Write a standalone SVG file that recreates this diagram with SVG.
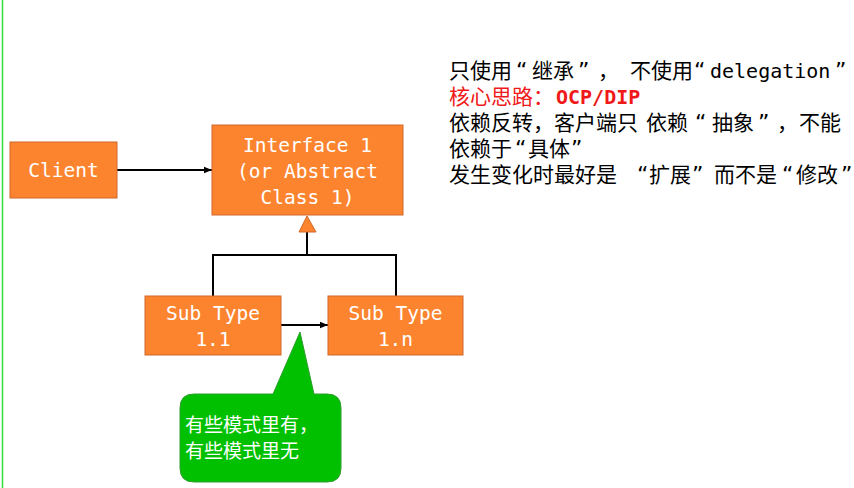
<svg xmlns="http://www.w3.org/2000/svg" width="854" height="488" viewBox="0 0 854 488">
<defs>
<style>
.box{fill:#FD842F;stroke:#D0692A;stroke-width:1}
.bt{font-family:"DejaVu Sans Mono","Liberation Mono",monospace;font-size:19.5px;fill:#fff;text-anchor:middle}
.ln{fill:none;stroke:#000;stroke-width:2}
.rt{font-family:"Noto Sans CJK SC",sans-serif;font-size:21px;fill:#000}
.mono{font-family:"DejaVu Sans Mono","Liberation Mono",monospace;font-size:20px}
.q{font-family:"DejaVu Sans",sans-serif;font-size:22px}
.ct{font-family:"Noto Sans CJK SC",sans-serif;font-size:19px;fill:#fff}
</style>
<marker id="arr" viewBox="0 0 10 10" refX="10" refY="5" markerWidth="8" markerHeight="8" markerUnits="userSpaceOnUse" orient="auto">
<path d="M0,1 L10,5 L0,9 z" fill="#000"/>
</marker>
</defs>
<rect width="854" height="488" fill="#fff"/>
<line x1="2.5" y1="0" x2="2.5" y2="488" stroke="#33DD33" stroke-width="1.5"/>
<g id="connectors">
<line class="ln" x1="117" y1="170" x2="212" y2="170" marker-end="url(#arr)"/>
<polyline class="ln" points="213,296 213,255 396,255 396,296"/>
<line class="ln" x1="307" y1="255" x2="307" y2="232"/>
<polygon points="307,216 299,232 316,232" fill="#FD842F" stroke="#D0692A" stroke-width="1"/>
<line class="ln" x1="281" y1="325" x2="328" y2="325" marker-end="url(#arr)"/>
</g>
<g id="client">
<rect class="box" x="10" y="142" width="107" height="56"/>
<text class="bt" x="63.5" y="177">Client</text>
</g>
<g id="interface1">
<rect class="box" x="212" y="125" width="191" height="90"/>
<text class="bt" x="307.5" y="152">Interface 1</text>
<text class="bt" x="307.5" y="178">(or Abstract</text>
<text class="bt" x="307.5" y="204">Class 1)</text>
</g>
<g id="subtype11">
<rect class="box" x="145" y="296" width="136" height="59"/>
<text class="bt" x="213" y="320">Sub Type</text>
<text class="bt" x="213" y="346">1.1</text>
</g>
<g id="subtype1n">
<rect class="box" x="328" y="296" width="135" height="59"/>
<text class="bt" x="395.5" y="320">Sub Type</text>
<text class="bt" x="395.5" y="346">1.n</text>
</g>
<g id="callout">
<path d="M194,394 L273,394 L300,332 L314,394 L327,394 Q341,394 341,408 L341,468 Q341,482 327,482 L194,482 Q180,482 180,468 L180,408 Q180,394 194,394 Z" fill="#00C000" stroke="#2E9E2E" stroke-width="1"/>
<text class="ct" x="185" y="432">有些模式里有，</text>
<text class="ct" x="185" y="458">有些模式里无</text>
</g>
<g id="notes">
<text class="rt" y="78"><tspan x="449">只使用</tspan><tspan class="q" x="516">“</tspan><tspan x="532">继承</tspan><tspan class="q" x="578">”</tspan><tspan x="598">，</tspan><tspan x="630">不使用</tspan><tspan class="q" x="694">“</tspan><tspan class="mono" x="710">delegation</tspan><tspan class="q" x="835">”</tspan></text>
<text class="rt" y="104" style="fill:#F01818"><tspan x="449">核心思路</tspan><tspan x="533">：</tspan><tspan class="mono" x="556" font-weight="bold">OCP/DIP</tspan></text>
<text class="rt" y="130"><tspan x="449">依赖反转，客户端只</tspan><tspan x="646">依赖</tspan><tspan class="q" x="695">“</tspan><tspan x="712">抽象</tspan><tspan class="q" x="758">”</tspan><tspan x="777">，</tspan><tspan x="799">不能</tspan></text>
<text class="rt" y="156"><tspan x="449">依赖于</tspan><tspan class="q" x="515">“</tspan><tspan x="528">具体</tspan><tspan class="q" x="571">”</tspan></text>
<text class="rt" y="182"><tspan x="449">发生变化时最好是</tspan><tspan class="q" x="637">“</tspan><tspan x="649">扩展</tspan><tspan class="q" x="692">”</tspan><tspan x="714">而不是</tspan><tspan class="q" x="782">“</tspan><tspan x="796">修改</tspan><tspan class="q" x="841">”</tspan></text>
</g>
</svg>
